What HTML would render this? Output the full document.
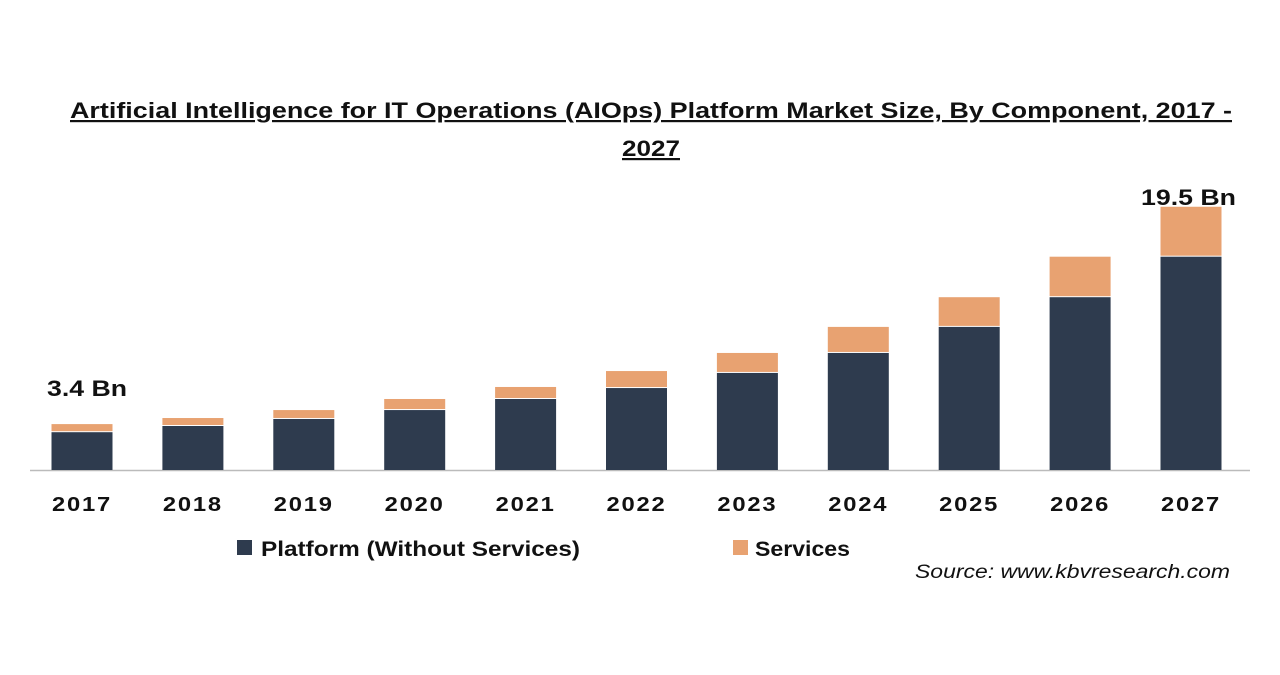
<!DOCTYPE html>
<html><head><meta charset="utf-8"><style>
body{margin:0;background:#fff;}
svg text{font-family:"Liberation Sans",sans-serif;}
</style></head><body>
<svg width="1280" height="670" xmlns="http://www.w3.org/2000/svg">
<g font-weight="bold" font-size="22" fill="#111" text-decoration="underline">
<text x="70" y="118" textLength="1162" lengthAdjust="spacingAndGlyphs">Artificial  Intelligence for IT Operations (AIOps) Platform Market Size, By Component, 2017 -</text>
<text x="622" y="156" textLength="58" lengthAdjust="spacingAndGlyphs">2027</text>
</g>
<line x1="30" y1="470.5" x2="1250" y2="470.5" stroke="#bbb" stroke-width="1.5"/>
<g id="bars"></g>
<g id="labels"></g>
<text x="47" y="396" font-size="22" font-weight="bold" fill="#111" textLength="80" lengthAdjust="spacingAndGlyphs">3.4 Bn</text>
<text x="1141" y="205" font-size="22" font-weight="bold" fill="#111" textLength="95" lengthAdjust="spacingAndGlyphs">19.5 Bn</text>
<g>
<rect x="237" y="540" width="15" height="15" fill="#2e3b4e"/>
<text x="261" y="556" font-size="21" font-weight="bold" fill="#111" textLength="319" lengthAdjust="spacingAndGlyphs">Platform (Without Services)</text>
<rect x="733" y="540" width="15" height="15" fill="#e8a271"/>
<text x="755" y="556" font-size="21" font-weight="bold" fill="#111" textLength="95" lengthAdjust="spacingAndGlyphs">Services</text>
</g>
<text x="915" y="578" font-size="19" font-style="italic" fill="#111" textLength="315" lengthAdjust="spacingAndGlyphs">Source: www.kbvresearch.com</text>
</svg>
<script>
const years=["2017","2018","2019","2020","2021","2022","2023","2024","2025","2026","2027"];
const platform=[2.8,3.26,3.78,4.44,5.26,6.07,7.19,8.67,10.6,12.8,15.8];
const services=[0.6,0.59,0.66,0.82,0.89,1.26,1.48,1.93,2.2,3.0,3.7];
const base=470, pxPer=13.5, x0=82, step=110.9, bw=61;
const yS=v=>base-v*pxPer;
const xS=i=>x0+i*step;
const ns="http://www.w3.org/2000/svg";
const gb=document.getElementById('bars'), gl=document.getElementById('labels');
years.forEach((y,i)=>{
  const p=document.createElementNS(ns,'rect');
  p.setAttribute('x',xS(i)-bw/2);p.setAttribute('width',bw);
  p.setAttribute('y',yS(platform[i]));p.setAttribute('height',base-yS(platform[i]));
  p.setAttribute('fill','#2e3b4e');
  
  
  gb.appendChild(p);
  const s=document.createElementNS(ns,'rect');
  const t=platform[i]+services[i];
  s.setAttribute('x',xS(i)-bw/2);s.setAttribute('width',bw);
  s.setAttribute('y',yS(t));s.setAttribute('height',yS(platform[i])-yS(t)-1);
  s.setAttribute('fill','#e8a271');
  
  
  gb.appendChild(s);
  const tx=document.createElementNS(ns,'text');
  tx.setAttribute('x',xS(i)-30);tx.setAttribute('y',511);
  tx.setAttribute('font-size','20');tx.setAttribute('textLength','60');tx.setAttribute('lengthAdjust','spacingAndGlyphs');
  tx.setAttribute('font-weight','bold');tx.setAttribute('fill','#111');tx.setAttribute('letter-spacing','1.5');
  tx.textContent=y;
  
  
  gl.appendChild(tx);
});
</script>
</body></html>
